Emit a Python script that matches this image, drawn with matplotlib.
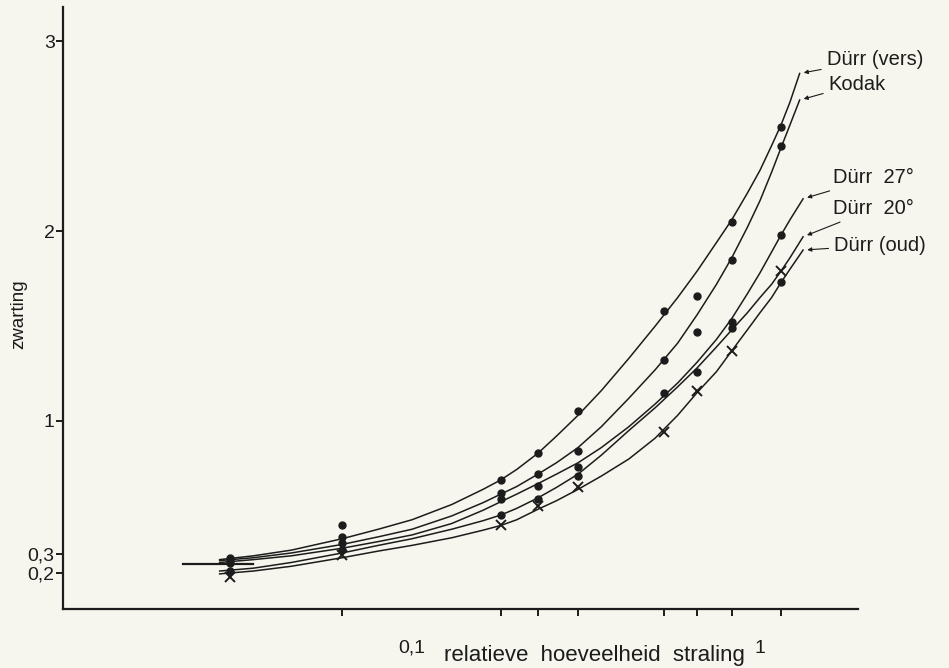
import matplotlib.pyplot as plt
import numpy as np
from matplotlib.ticker import FixedLocator, NullFormatter

# meetpunten (relatieve hoeveelheid straling)
x_meet = [0.03, 0.063, 0.18, 0.23, 0.30, 0.53, 0.66, 0.83, 1.15]

nan = np.nan
p_vers = [0.28, 0.45, 0.69, 0.83, 1.05, 1.58, 1.66, 2.05, 2.55]
p_kodak = [0.27, 0.39, 0.62, 0.72, 0.84, 1.32, 1.47, 1.85, 2.45]
p_27 = [0.25, 0.36, 0.59, 0.66, 0.76, nan, nan, 1.52, 1.98]
p_20 = [0.21, 0.32, 0.505, 0.59, 0.71, 1.15, 1.26, 1.49, 1.73]
p_oud = [0.18, 0.295, 0.45, 0.55, 0.65, 0.94, 1.16, 1.37, 1.79]

x_a = [0.028, 0.035, 0.045, 0.063, 0.08, 0.1, 0.13, 0.16, 0.18, 0.2, 0.23, 0.26, 0.3,
       0.35, 0.42, 0.5, 0.58, 0.66, 0.75, 0.83, 0.92, 1.0, 1.08, 1.15, 1.22, 1.30]
x_b = [0.028, 0.035, 0.045, 0.063, 0.08, 0.1, 0.13, 0.16, 0.18, 0.2, 0.23, 0.26, 0.3,
       0.35, 0.42, 0.5, 0.58, 0.66, 0.75, 0.83, 0.92, 1.0, 1.08, 1.15, 1.22, 1.33]
k_vers = [0.27, 0.29, 0.32, 0.38, 0.43, 0.48, 0.56, 0.64, 0.69, 0.745, 0.83, 0.92, 1.03,
          1.16, 1.33, 1.50, 1.65, 1.79, 1.94, 2.06, 2.20, 2.32, 2.45, 2.56, 2.68, 2.83]
k_kodak = [0.265, 0.28, 0.305, 0.35, 0.39, 0.43, 0.50, 0.57, 0.615, 0.655, 0.72, 0.78, 0.86,
           0.97, 1.12, 1.27, 1.41, 1.56, 1.72, 1.86, 2.02, 2.16, 2.31, 2.44, 2.56, 2.69]
k_27 = [0.255, 0.27, 0.29, 0.33, 0.365, 0.40, 0.46, 0.53, 0.575, 0.615, 0.67, 0.72, 0.78,
        0.86, 0.97, 1.09, 1.20, 1.31, 1.43, 1.54, 1.67, 1.78, 1.89, 1.98, 2.06, 2.17]
k_20 = [0.21, 0.225, 0.255, 0.305, 0.345, 0.38, 0.43, 0.475, 0.505, 0.54, 0.595, 0.65, 0.72,
        0.82, 0.95, 1.07, 1.18, 1.28, 1.39, 1.48, 1.57, 1.65, 1.72, 1.79, 1.86, 1.97]
k_oud = [0.195, 0.21, 0.235, 0.28, 0.315, 0.345, 0.385, 0.425, 0.45, 0.48, 0.535, 0.58, 0.64,
         0.71, 0.80, 0.91, 1.03, 1.15, 1.26, 1.37, 1.48, 1.57, 1.65, 1.73, 1.80, 1.90]

x_begin = [0.022, 0.035]
y_begin = [0.245, 0.245]

namen = ['Dürr (vers)', 'Kodak', 'Dürr  27°', 'Dürr  20°', 'Dürr (oud)']

inkt = '#1c1c1c'
papier = '#f6f6ee'
plt.rcParams['font.family'] = ['Liberation Sans', 'DejaVu Sans']

fig = plt.figure(figsize=(9.49, 6.68), dpi=100, facecolor=papier)
ax = fig.add_axes([63 / 949, 1 - 609 / 668, 795 / 949, 602 / 668])
ax.set_facecolor(papier)

ax.plot(x_begin, y_begin, color=inkt, lw=1.6)
krommen = [(x_a, k_vers), (x_a, k_kodak), (x_b, k_27), (x_b, k_20), (x_b, k_oud)]
for xs, ys in krommen:
    ax.plot(xs, ys, color=inkt, lw=1.1)

for p in [p_vers, p_kodak, p_27, p_20]:
    ax.plot(x_meet, p, 'o', color=inkt, ms=5, ls='none')
ax.plot(x_meet, p_oud, 'x', color=inkt, ms=7.5, mew=1.4, ls='none')

# labels bij de krommen (verschuiving in pixels t.o.v. het eind van de kromme)
offsets = [(27, 14), (29, 16), (30, 21), (30, 28), (31, 5)]
for (xs, ys), naam, (dx, dy) in zip(krommen, namen, offsets):
    ax.annotate(naam, xy=(xs[-1], ys[-1]), xytext=(dx, dy), textcoords='offset pixels',
                ha='left', va='center', fontsize=14.5, color=inkt,
                arrowprops=dict(arrowstyle='-|>', color=inkt, lw=0.8,
                                mutation_scale=6, shrinkA=2, shrinkB=3),
                annotation_clip=False)

ax.set_xscale('log')
ax.set_xlim(0.00993, 1.913)
ax.set_ylim(0.01, 3.18)

for s in ['top', 'right']:
    ax.spines[s].set_visible(False)
for s in ['left', 'bottom']:
    ax.spines[s].set_linewidth(1.6)
    ax.spines[s].set_color(inkt)

ax.set_yticks([0.2, 0.3, 1, 2, 3])
ax.set_yticklabels(['0,2', '0,3', '1', '2', '3'])
ax.tick_params(axis='y', direction='out', length=5, width=1.4, pad=1,
               labelsize=14, colors=inkt)

ax.xaxis.set_major_locator(FixedLocator([0.1, 1]))
ax.set_xticklabels(['0,1', '1'])
ax.xaxis.set_minor_locator(FixedLocator(x_meet[1:]))
ax.xaxis.set_minor_formatter(NullFormatter())
ax.tick_params(axis='x', which='major', length=0, pad=22, labelsize=14, colors=inkt)
ax.tick_params(axis='x', which='minor', direction='out', length=5, width=1.4, colors=inkt)

ax.set_xlabel('relatieve  hoeveelheid  straling', fontsize=16, color=inkt)
ax.xaxis.set_label_coords((594 - 63) / 795, -(645 - 609) / 602)
ax.set_ylabel('zwarting', fontsize=13.5, color=inkt, va='center')
ax.yaxis.set_label_coords(-(63 - 19) / 795, (609 - 314) / 602)

fig.savefig('out.png', dpi=100, facecolor=papier)
